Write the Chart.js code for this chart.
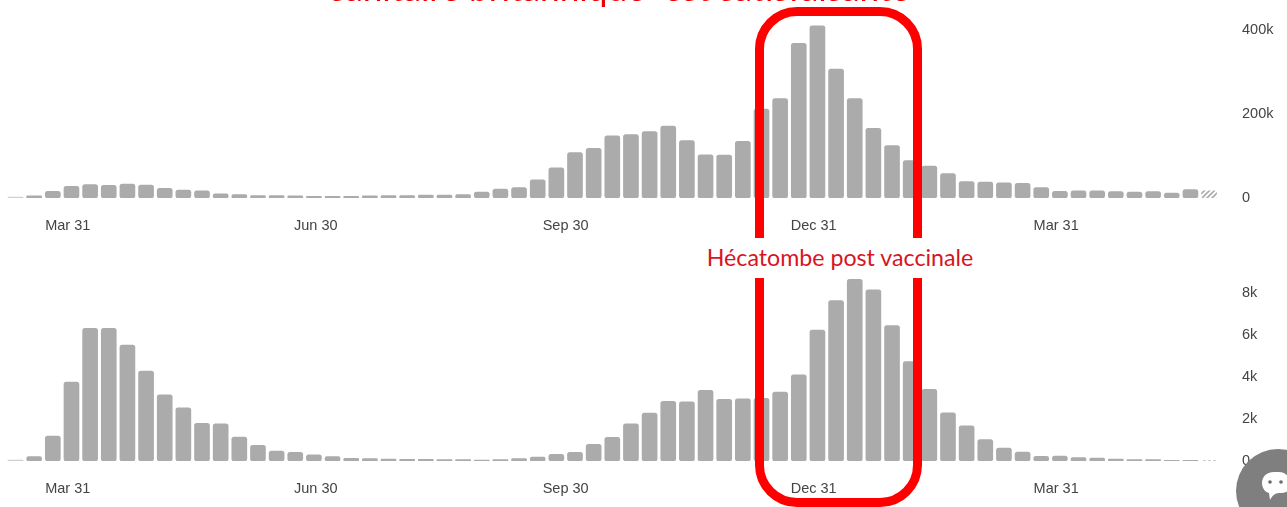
<!DOCTYPE html>
<html lang="fr"><head><meta charset="utf-8">
<style>
html,body{margin:0;padding:0;background:#fff;overflow:hidden;width:1287px;height:507px}
#wrap{position:relative;width:1287px;height:507px;overflow:hidden;filter:blur(.45px)}
canvas{position:absolute;left:0}
#frame{position:absolute;left:755px;top:7px;width:149px;height:482px;border:9px solid #fe0000;border-radius:42px}
#band{position:absolute;left:700px;top:238px;width:280px;height:40px;background:#fff;color:#d8141e;font:23.2px Lato,sans-serif;text-align:center;line-height:38px;white-space:nowrap}
#head{position:absolute;left:330px;top:-33px;color:#ea0000;font:35.2px Lato,sans-serif;white-space:pre;line-height:40px}
#chat{position:absolute;left:1236px;top:449px}
</style></head><body>
<div id="wrap">
<canvas id="top" width="1287" height="240" style="top:0;width:1287px;height:240px"></canvas>
<canvas id="bot" width="1287" height="247" style="top:260px;width:1287px;height:247px"></canvas>
<div id="head">sanitaire britannique  est satisfaisante</div>
<div id="frame"></div>
<div id="band">Hécatombe post vaccinale</div>
<svg id="chat" width="84" height="84" viewBox="0 0 84 84">
<circle cx="42" cy="42" r="42" fill="#7f7f7f"/>
<path d="M38 23c-8 0-12 5-12 11 0 5 3 9 7 10l1 7c2-4 5-7 9-7 7 0 11-1 11-10 0-7-5-11-11-11z" fill="#fff"/>
<circle cx="34" cy="33" r="1.8" fill="#6a6a6a"/><circle cx="45" cy="33" r="1.8" fill="#6a6a6a"/>
</svg>
</div>
<script src="https://cdn.jsdelivr.net/npm/chart.js@4"></script>
<script>
const cases = [2,5,16,28,32,30,33,31,23,19,17,10,8,6,6,5,4,4,4,5,6,6,7,7,8,14,21,25,43,72,108,118,148,151,
158,171,137,103,102,135,212,237,368,410,307,237,166,125,89,76,58,39,38,36,35,25,16,17,17,15,14,15,12,20,17].map(v=>v*1000);
const deaths = [48,207,1190,3770,6330,6340,5530,4290,3160,2540,1800,1780,1145,750,477,413,300,207,127,110,95,80,80,64,64,48,64,110,190,318,413,795,1130,1780,
2290,2850,2830,3370,2940,2970,2990,3290,4120,6250,7660,8680,8170,6470,4750,3420,2300,1685,1020,620,430,220,240,160,143,95,64,64,32,32,16];
const tickWeeks = [2.8,16.1,29.5,42.8,55.8];
const tickLabels = ['Mar 31','Jun 30','Sep 30','Dec 31','Mar 31'];
const casesTicks = [0,200000,400000];
const deathsTicks = [0,2000,4000,6000,8000];

const GREY='#acabac';
const hatch=(()=>{const c=document.createElement('canvas');c.width=c.height=5;const x=c.getContext('2d');
 x.strokeStyle=GREY;x.lineWidth=1.6;x.beginPath();x.moveTo(-1,6);x.lineTo(6,-1);x.moveTo(-1,1);x.lineTo(1,-1);x.moveTo(4,6);x.lineTo(6,4);x.stroke();
 return x.createPattern(c,'repeat');})();
const fmt=v=>v===0?'0':(v/1000)+'k';
function make(id,values,yTicks,yMax,topPad,axisH,xPad){
 return new Chart(document.getElementById(id),{
  type:'bar',
  data:{datasets:[{data:values.map((y,i)=>({x:i,y})),
    backgroundColor:c=>c.dataIndex===values.length-1?hatch:(c.dataIndex===0?'#d0d0d0':GREY),
    barThickness:15,borderRadius:2.5,borderSkipped:false}]},
  options:{responsive:false,animation:false,events:[],
   layout:{padding:{left:6.2,right:0,top:topPad,bottom:0}},
   plugins:{legend:{display:false},title:{display:false},tooltip:{enabled:false}},
   scales:{
    x:{type:'linear',offset:false,min:-.5,max:64.5,grid:{display:false,drawTicks:false},border:{display:false},
     afterBuildTicks:s=>{s.ticks=tickWeeks.map(value=>({value}));},
     afterFit:s=>{s.height=axisH;s.paddingLeft=0;s.paddingRight=0;},
     ticks:{autoSkip:false,maxRotation:0,padding:xPad,color:'#444',font:{family:'"Liberation Sans"',size:14.5},
      callback:v=>tickLabels[tickWeeks.indexOf(v)]}},
    y:{position:'right',min:0,max:yMax,grid:{display:false,drawTicks:false},border:{display:false},
     afterBuildTicks:s=>{s.ticks=yTicks.map(value=>({value}));},
     afterFit:s=>{s.width=68.6;s.paddingTop=0;s.paddingBottom=0;},
     ticks:{padding:23.6,crossAlign:'near',color:'#444',font:{family:'"Liberation Sans"',size:14.5},callback:fmt}}
   }}});
}
make('top',cases,casesTicks,450000,9,42,19);
make('bot',deaths,deathsTicks,9120,10,46,19);
</script>
</body></html>
